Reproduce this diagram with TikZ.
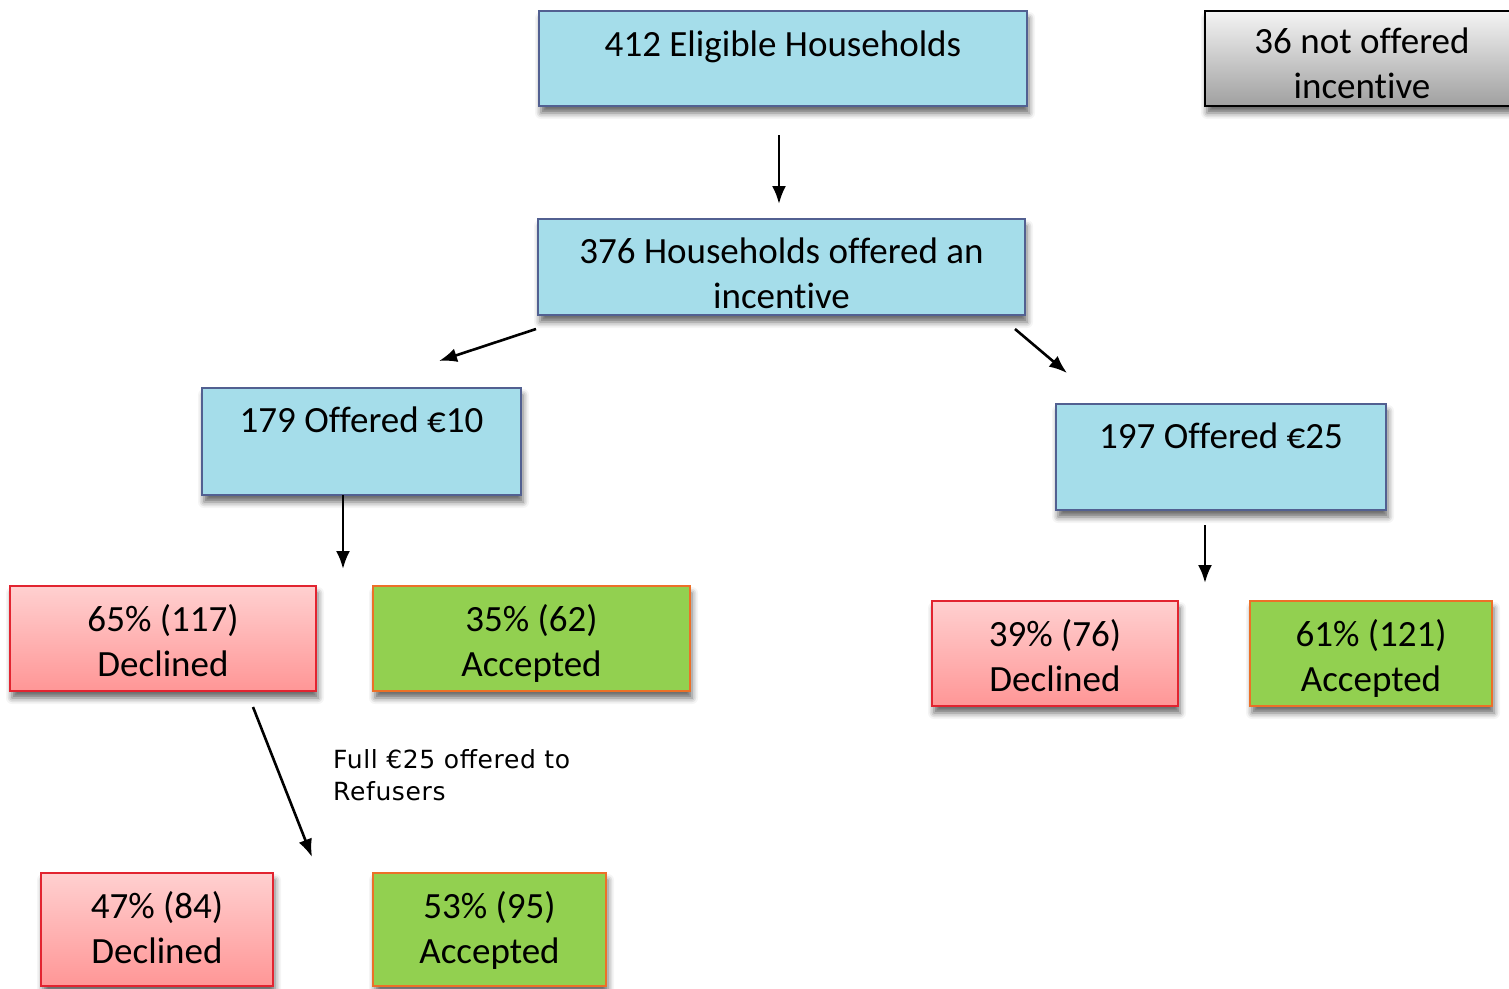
\documentclass[tikz,border=0pt]{standalone}
\usepackage{fontspec}
\setmainfont{Carlito}[Ligatures=NoCommon]
\newfontfamily\notefont{DejaVu Sans}[LetterSpace=2.5]
\usepackage{tikz}
\usetikzlibrary{arrows.meta}
\usetikzlibrary{shadows.blur}
\definecolor{StageBlue}{RGB}{165,221,234}
\definecolor{StageLine}{RGB}{82,96,145}
\definecolor{SkipTop}{RGB}{244,244,244}
\definecolor{SkipBot}{RGB}{160,160,160}
\definecolor{DeclTop}{RGB}{255,208,208}
\definecolor{DeclBot}{RGB}{255,150,150}
\definecolor{DeclLine}{RGB}{226,36,48}
\definecolor{AccGreen}{RGB}{146,208,80}
\definecolor{AccLine}{RGB}{236,112,40}
\tikzset{
  box/.style={rectangle, line width=1.8pt, inner sep=0pt,
    blur shadow={shadow xshift=2pt, shadow yshift=-7pt, shadow blur radius=6pt, shadow opacity=60}},
  stage/.style={box, draw=StageLine, fill=StageBlue},
  skipped/.style={box, draw=black, top color=SkipTop, bottom color=SkipBot},
  declined/.style={box, draw=DeclLine, top color=DeclTop, bottom color=DeclBot},
  accepted/.style={box, draw=AccLine, fill=AccGreen},
  txt/.style={font=\fontsize{37}{45}\selectfont, align=center, anchor=base, inner sep=0pt},
  flow/.style={-{Latex[length=18pt,width=14pt]}, line width=2.6pt},
}

\begin{document}
\begin{tikzpicture}[x=1pt, y=-1pt]
        \useasboundingbox (0,0) rectangle (1509,988);

        % boxes
        \node[stage, minimum width=488pt, minimum height=95pt] (eligible) at (783,58.5) {};
        \node[skipped, minimum width=314pt, minimum height=95pt] (notoffered) at (1362,58.5) {};
        \node[stage, minimum width=487pt, minimum height=96pt] (offered) at (781.5,267) {};
        \node[stage, minimum width=319pt, minimum height=107pt] (ten) at (361.5,441.5) {};
        \node[stage, minimum width=330pt, minimum height=106pt] (quarter) at (1221,457) {};
        \node[declined, minimum width=306pt, minimum height=105pt] (decTen) at (163,638.5) {};
        \node[accepted, minimum width=317pt, minimum height=105pt] (accTen) at (531.5,638.5) {};
        \node[declined, minimum width=246pt, minimum height=105pt] (decQuarter) at (1055,653.5) {};
        \node[accepted, minimum width=242pt, minimum height=105pt] (accQuarter) at (1371,653.5) {};
        \node[declined, minimum width=232pt, minimum height=113pt] (decRefuser) at (157,929.5) {};
        \node[accepted, minimum width=233pt, minimum height=113pt] (accRefuser) at (489.5,929.5) {};

        % texts (base = last line)
        \node[txt] (eligibleT) at ([yshift=-46pt]eligible.north) {412 Eligible Households};
        \node[txt] (notofferedT) at ([yshift=-88pt]notoffered.north) {36 not offered\\incentive};
        \node[txt] (offeredT) at ([yshift=-90pt]offered.north) {376 Households offered an\\incentive};
        \node[txt] (tenT) at ([yshift=-45pt]ten.north) {179 Offered €10};
        \node[txt] (quarterT) at ([yshift=-45pt]quarter.north) {197 Offered €25};
        \node[txt] (decTenT) at ([yshift=-91pt]decTen.north) {65\% (117)\\Declined};
        \node[txt] (accTenT) at ([yshift=-91pt]accTen.north) {35\% (62)\\Accepted};
        \node[txt] (decQuarterT) at ([yshift=-91pt]decQuarter.north) {39\% (76)\\Declined};
        \node[txt] (accQuarterT) at ([yshift=-91pt]accQuarter.north) {61\% (121)\\Accepted};
        \node[txt] (decRefuserT) at ([yshift=-91pt]decRefuser.north) {47\% (84)\\Declined};
        \node[txt] (accRefuserT) at ([yshift=-91pt]accRefuser.north) {53\% (95)\\Accepted};
        \node[anchor=base west, align=left, inner sep=0pt, font=\notefont\fontsize{25}{32}\selectfont] (refuseNote) at (333,800) {Full €25 offered to\\Refusers};

        % arrow ends
        \coordinate (eligibleOut) at (779,135);
        \coordinate (offeredIn) at (779,204);
        \coordinate (splitL) at (536,329);
        \coordinate (tenIn) at (439,361);
        \coordinate (splitR) at (1015,329);
        \coordinate (quarterIn) at (1067,373);
        \coordinate (tenOut) at (343,495);
        \coordinate (tenRes) at (343,569);
        \coordinate (quarterOut) at (1205,525);
        \coordinate (quarterRes) at (1205,583);
        \coordinate (declineOut) at (253,707);
        \coordinate (refuserRes) at (312,857);

        % edges
        \draw[flow] (eligibleOut) -- (offeredIn);
        \draw[flow] (splitL) -- (tenIn);
        \draw[flow] (splitR) -- (quarterIn);
        \draw[flow] (tenOut) -- (tenRes);
        \draw[flow] (quarterOut) -- (quarterRes);
        \draw[flow] (declineOut) -- (refuserRes);
\end{tikzpicture}
\end{document}
